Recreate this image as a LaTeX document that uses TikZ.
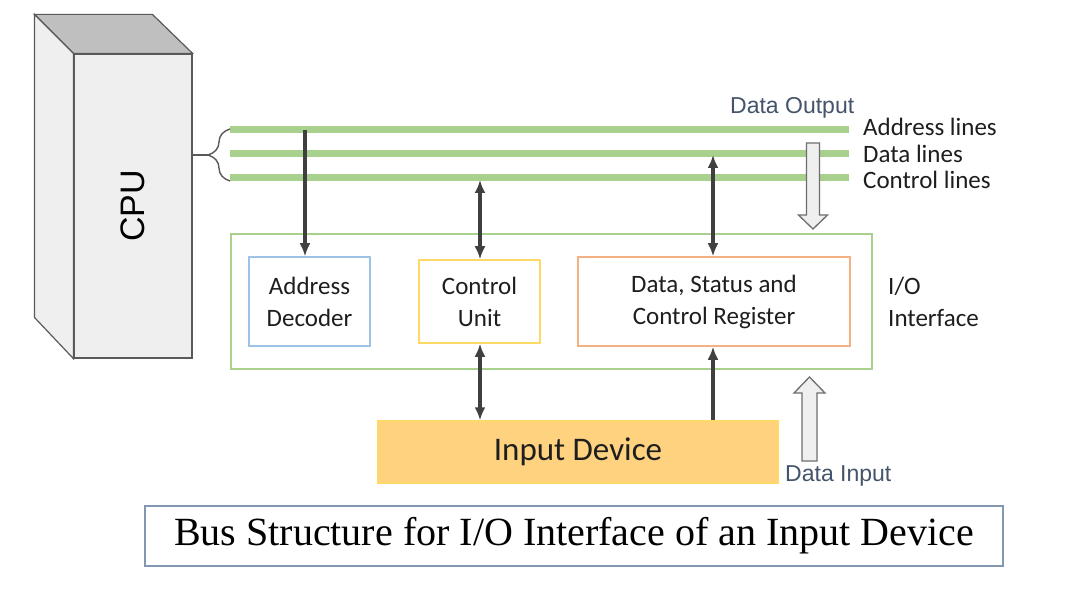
\documentclass[tikz,border=0pt]{standalone}
\usepackage{fontspec}
\setmainfont{Carlito}
\newfontfamily\arialfont{Liberation Sans}
\newfontfamily\timesfont{Liberation Serif}
\usetikzlibrary{arrows.meta,decorations.pathreplacing}

\begin{document}
\begin{tikzpicture}[x=1pt,y=-1pt,
  >={Latex[length=13pt,width=11pt]},
  unitbox/.style={shape=rectangle,draw,line width=1.5pt,fill=white,text=textgray,align=center,font=\fontsize{25}{32}\selectfont,inner sep=0pt},
  busline/.style={line width=7pt,color=busgreen},
  buslabel/.style={anchor=west,text=textgray,font=\fontsize{25}{32}\selectfont,inner sep=0pt},
  caption/.style={anchor=west,text=captiongray,font=\arialfont\fontsize{23}{28}\selectfont,inner sep=0pt},
  link/.style={line width=3.4pt,color=linkgray},
  hollow/.style={draw=arrowedge,line width=1.3pt,fill=cpufront,line join=miter}]
\definecolor{busgreen}{RGB}{169,209,142}
\definecolor{linkgray}{RGB}{64,64,64}
\definecolor{textgray}{RGB}{30,30,30}
\definecolor{captiongray}{RGB}{68,84,106}
\definecolor{cpufront}{RGB}{239,239,239}
\definecolor{cputop}{RGB}{191,191,191}
\definecolor{cpuedge}{RGB}{89,89,89}
\definecolor{arrowedge}{RGB}{110,110,110}
\definecolor{decoderblue}{RGB}{157,195,230}
\definecolor{unityellow}{RGB}{255,217,102}
\definecolor{regorange}{RGB}{244,177,131}
\definecolor{devfill}{RGB}{255,210,127}
\definecolor{devedge}{RGB}{255,217,102}
\definecolor{titleedge}{RGB}{132,151,176}
\path[fill=white,use as bounding box] (0,0) rectangle (1075,593);
% CPU block
\node[shape=rectangle,draw=cpuedge,line width=1.2pt,fill=cpufront,minimum width=118pt,minimum height=304pt] (cpu) at (133,206) {};
\draw[cpuedge,line width=1.2pt,fill=cputop] (cpu.north west) -- ++(-39,-39) -- ++(118,0) -- (cpu.north east) -- cycle;
\draw[cpuedge,line width=1.2pt,fill=cpufront] (cpu.north west) -- ++(-39,-39) -- ++(0,303) -- (cpu.south west) -- cycle;
\node[rotate=90,font=\arialfont\fontsize{34}{40}\selectfont] (cpulbl) at (cpu.center) {CPU};
% bus lines
\foreach \y/\ly/\name/\txt in {130/127/addr/Address lines,154/154/data/Data lines,178/180/ctl/Control lines} {
  \draw[busline] (230,\y) coordinate (\name L) -- (849,\y) coordinate (\name R);
  \node[buslabel] (\name lbl) at (863,\ly) {\txt};
}
\draw[decorate,decoration={brace,amplitude=22pt},cpuedge,line width=1.4pt] (230,181) -- (230,129);
\coordinate (bracetip) at (208,155);
\draw[cpuedge,line width=1.4pt] (bracetip) -- (cpu.east |- bracetip);
\node[caption] (outlbl) at (730,108) {Data Output};
% I/O interface
\node[unitbox,draw=busgreen,minimum width=641pt,minimum height=135pt] (io) at (551.5,301.5) {};
\node[unitbox,draw=decoderblue,minimum width=121pt,minimum height=89pt] (decoder) at (309.5,301.5) {Address\\Decoder};
\node[unitbox,draw=unityellow,minimum width=121pt,minimum height=83pt] (unit) at (479.5,301.5) {Control\\Unit};
\node[unitbox,draw=regorange,minimum width=272pt,minimum height=89pt] (register) at (714,301.5) {Data, Status and\\Control Register};
\node[buslabel,align=left] (iolbl) at (888,301.5) {I/O\\Interface};
\node[unitbox,draw=devedge,fill=devfill,minimum width=400pt,minimum height=62pt,font=\fontsize{33}{40}\selectfont] (device) at (578,452) {Input Device};
\node[caption] (inlbl) at (785,476) {Data Input};
% connectors
\coordinate (decoderbus) at (305,130);
\coordinate (unitbus) at (480,180);
\coordinate (regbus) at (713,155);
\draw[link,->] (decoderbus) -- (decoderbus |- decoder.north);
\draw[link,<->] (unitbus) -- (unitbus |- unit.north);
\draw[link,<->] (regbus) -- (regbus |- register.north);
\draw[link,<->] (unitbus |- unit.south) -- (unitbus |- device.north);
\draw[link,->] (regbus |- device.north) -- (regbus |- register.south);
% data flow arrows
\draw[hollow] (806.5,143) -- (819.5,143) -- (819.5,215) -- (827.5,215) -- (813,229) -- (798.5,215) -- (806.5,215) -- cycle;
\draw[hollow] (802,461) -- (817,461) -- (817,393) -- (825,393) -- (809.5,377) -- (794,393) -- (802,393) -- cycle;
% caption box
\node[shape=rectangle,draw=titleedge,line width=1.5pt,minimum width=858pt,minimum height=60pt,font=\timesfont\fontsize{40}{48}\selectfont] (title) at (574,536) {Bus Structure for I/O Interface of an Input Device};
\end{tikzpicture}
\end{document}
